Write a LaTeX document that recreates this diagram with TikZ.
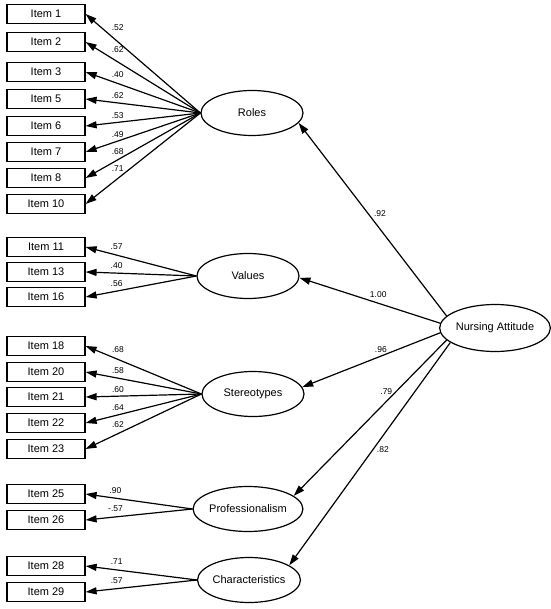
\documentclass[tikz,border=0pt]{standalone}
\usepackage{fontspec}
\setmainfont{Liberation Sans}
\usetikzlibrary{positioning, arrows.meta, shapes.geometric}
\tikzset{
    itembox/.style={rectangle, draw, line width=1.2pt, minimum width=78pt, minimum height=19pt, inner sep=0pt, font=\fontsize{11}{12}\selectfont},
    factor/.style={ellipse, draw, line width=1.2pt, minimum width=102pt, minimum height=45pt, inner sep=0pt, font=\fontsize{11}{12}\selectfont},
    arrow/.style={-{Triangle[length=11pt, width=7pt]}, line width=1.2pt},
    coef/.style={font=\fontsize{8.5}{9}\selectfont},
    load/.style={coef, pos=0.72, above},
}

\begin{document}
\begin{tikzpicture}[x=1pt, y=-1pt]
    \useasboundingbox (0,0) rectangle (550,609);

    % Fattori latenti
    \node[factor] (roles) at (252,113) {Roles};
    \node[factor] (values) at (248,276) {Values};
    \node[factor] (stereo) at (253,394) {Stereotypes};
    \node[factor] (prof) at (248,509) {Professionalism};
    \node[factor] (charac) at (249,580) {Characteristics};
    \node[factor, minimum width=104pt, minimum height=47pt] (nursing) at (495,328) {Nursing Attitude};

    % Item osservati
    \node[itembox] (i1) at (46,14) {Item 1};
    \node[itembox] (i2) at (46,42) {Item 2};
    \node[itembox] (i3) at (46,72) {Item 3};
    \node[itembox] (i5) at (46,99) {Item 5};
    \node[itembox] (i6) at (46,126) {Item 6};
    \node[itembox] (i7) at (46,152) {Item 7};
    \node[itembox] (i8) at (46,178) {Item 8};
    \node[itembox] (i10) at (46,204) {Item 10};
    \node[itembox] (i11) at (46,247) {Item 11};
    \node[itembox] (i13) at (46,272) {Item 13};
    \node[itembox] (i16) at (46,297) {Item 16};
    \node[itembox] (i18) at (46,346) {Item 18};
    \node[itembox] (i20) at (46,372) {Item 20};
    \node[itembox] (i21) at (46,397) {Item 21};
    \node[itembox] (i22) at (46,423) {Item 22};
    \node[itembox] (i23) at (46,449) {Item 23};
    \node[itembox] (i25) at (46,494) {Item 25};
    \node[itembox] (i26) at (46,520) {Item 26};
    \node[itembox] (i28) at (46,566) {Item 28};
    \node[itembox] (i29) at (46,592) {Item 29};

    % Saturazioni: Roles
    \draw[arrow] (roles.west) -- (i1.east) node[load, yshift=7pt] {.52};
    \draw[arrow] (roles.west) -- (i2.east) node[load, yshift=5pt] {.62};
    \draw[arrow] (roles.west) -- (i3.east) node[load, yshift=2pt] {.40};
    \draw[arrow] (roles.west) -- (i5.east) node[load] {.62};
    \draw[arrow] (roles.west) -- (i6.east) node[load] {.53};
    \draw[arrow] (roles.west) -- (i7.east) node[load] {.49};
    \draw[arrow] (roles.west) -- (i8.east) node[load, yshift=1pt] {.68};
    \draw[arrow] (roles.west) -- (i10.east) node[load, yshift=3pt] {.71};

    % Saturazioni: Values
    \draw[arrow] (values.west) -- (i11.east) node[load, yshift=2pt] {.57};
    \draw[arrow] (values.west) -- (i13.east) node[load, yshift=1pt] {.40};
    \draw[arrow] (values.west) -- (i16.east) node[load, yshift=1pt] {.56};

    % Saturazioni: Stereotypes
    \draw[arrow] (stereo.west) -- (i18.east) node[load, yshift=3pt] {.68};
    \draw[arrow] (stereo.west) -- (i20.east) node[load, yshift=1pt] {.58};
    \draw[arrow] (stereo.west) -- (i21.east) node[load] {.60};
    \draw[arrow] (stereo.west) -- (i22.east) node[load] {.64};
    \draw[arrow] (stereo.west) -- (i23.east) node[load, yshift=2pt] {.62};

    % Saturazioni: Professionalism e Characteristics
    \draw[arrow] (prof.west) -- (i25.east) node[load, yshift=1pt] {.90};
    \draw[arrow] (prof.west) -- (i26.east) node[load, yshift=1pt] {-.57};
    \draw[arrow] (charac.west) -- (i28.east) node[load, yshift=1pt] {.71};
    \draw[arrow] (charac.west) -- (i29.east) node[load, yshift=1pt] {.57};

    % Fattore di secondo ordine
    \draw[arrow] (nursing.166) -- (roles.348) node[coef, pos=0.53, right, xshift=2pt] {.92};
    \draw[arrow] (nursing.175) -- (values.358) node[coef, pos=0.44, above, yshift=2pt] {1.00};
    \draw[arrow] (nursing.185) -- (stereo.8) node[coef, pos=0.43, above] {.96};
    \draw[arrow] (nursing.194) -- (prof.16) node[coef, pos=0.33, left] {.79};
    \draw[arrow] (nursing.198) -- (charac.20) node[coef, pos=0.48, right] {.82};
\end{tikzpicture}
\end{document}
